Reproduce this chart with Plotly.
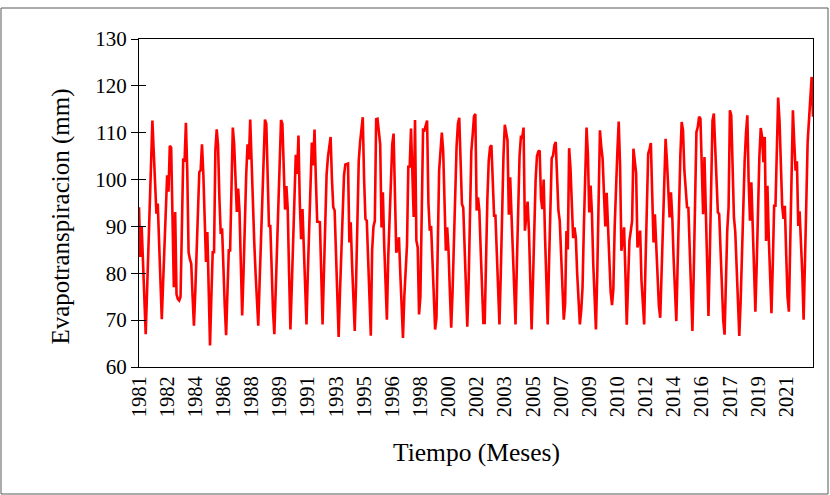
import plotly.graph_objects as go

# Monthly evapotranspiration (mm), Jan..Dec for each year
et_1981 = [94.1, 83.5, 90, 82, 74, 67, 76, 86, 96, 106, 112.6, 106]
et_1982 = [98, 92.7, 94.9, 85, 77, 70.2, 78, 85.6, 93, 100.9, 97.4, 107.2]
et_1983 = [106.8, 90, 77, 93.1, 75.5, 74.5, 74.2, 75, 90, 104.5, 103.8, 112.1]
et_1984 = [102, 84.5, 83, 82, 75, 68.8, 76, 84.2, 93, 101.6, 102, 107.5]
et_1985 = [101.3, 88.8, 82.4, 88.8, 76, 64.6, 75, 84.5, 84.5, 106.3, 110.7, 107.3]
et_1986 = [96, 88.4, 89.6, 80, 73, 66.8, 76, 84.9, 84.9, 98, 111.1, 107.7]
et_1987 = [100, 93.1, 98.1, 93.3, 82, 71, 80, 92, 101, 107.5, 104.3, 112.8]
et_1988 = [103, 94, 86.7, 80, 74, 68.8, 78, 87, 96, 105, 112.8, 111.9]
et_1989 = [100, 90.1, 90.1, 80, 72, 67, 76, 85.5, 95, 104, 112.7, 111.9]
et_1990 = [100, 93.6, 98.6, 93.7, 80, 68, 77, 87, 97, 105.3, 101.2, 109.4]
et_1991 = [95, 87.3, 93.7, 85, 77, 69.1, 80, 91, 101, 107.9, 103, 110.7]
et_1992 = [100, 91, 91, 90.9, 80, 69.1, 80, 92, 101, 104.8, 107, 109.1]
et_1993 = [100, 94.1, 93.4, 84, 75, 66.4, 76, 86, 95, 100.9, 103.2, 103.3]
et_1994 = [103.4, 86.6, 90.9, 82, 74, 67.7, 78, 90, 104, 108, 111, 113.3]
et_1995 = [100, 91.6, 91.2, 82, 74, 66.7, 85, 90, 91.2, 112.9, 113, 110]
et_1996 = [107.5, 89.8, 97.3, 86, 78, 70.1, 83.4, 92, 100, 107.5, 109.8, 99.8]
et_1997 = [84.4, 85.5, 87.7, 80, 72, 66.2, 75, 82, 86, 103, 102.6, 110.9]
et_1998 = [98, 92, 112.7, 87, 85.5, 71.2, 75, 95, 110.6, 110.5, 111.5, 112.6]
et_1999 = [95, 89.1, 90.1, 82, 74, 68, 70.5, 88, 102, 106, 110, 106.2]
et_2000 = [95, 84.8, 89.8, 84.8, 76, 68.4, 76, 86, 98, 107, 111.9, 113.2]
et_2001 = [104, 94.8, 94, 85, 76, 68.6, 78, 92, 106, 109.5, 113.5, 114]
et_2002 = [93.4, 96.2, 93.4, 85, 76, 69.4, 69.4, 84, 96, 104, 106.9, 107.3]
et_2003 = [100, 92.3, 92.3, 84, 76, 69.1, 80, 94, 105, 111.7, 110, 108.4]
et_2004 = [92.5, 100.5, 92.5, 84, 75, 69.1, 82, 95, 105, 109.1, 109, 111.1]
et_2005 = [89.1, 92, 95.3, 89.1, 78, 68, 78, 90, 100, 105, 106, 106.2]
et_2006 = [96, 93.7, 100, 88, 77, 69.1, 82, 95, 104.6, 105.1, 107.3, 108]
et_2007 = [100, 93.4, 91.2, 84, 76, 70.1, 73.4, 89, 85.1, 106.7, 102.5, 95]
et_2008 = [87.5, 89.8, 87.6, 80, 73, 69.1, 72, 76.9, 90, 102, 111.1, 105.5]
et_2009 = [93, 98.7, 93, 82, 73, 68, 80, 95, 110.5, 107, 104.4, 97]
et_2010 = [90, 97.2, 90, 82, 76, 73.2, 76.6, 90, 100, 106, 112.4, 103.2]
et_2011 = [84.8, 87, 89.8, 80, 69, 78, 87, 89, 91.2, 106.6, 104, 101.4]
et_2012 = [85.5, 87, 89.1, 78.4, 72, 69.1, 82, 95, 105.5, 106.5, 107.8, 97]
et_2013 = [86.6, 92.6, 85, 78, 73, 70.5, 80, 88, 100, 108.7, 104, 97]
et_2014 = [91.9, 97.3, 91.9, 83, 75, 69.8, 82, 95, 105, 112.3, 110.5, 102]
et_2015 = [98, 94.1, 94, 84, 75, 67.7, 80, 95, 110.1, 111.2, 113.4, 113]
et_2016 = [104.8, 92.6, 104.8, 92.6, 80, 70.9, 84, 99, 112.6, 114.1, 108, 101.9]
et_2017 = [93, 92.6, 85, 77, 70, 66.9, 80, 89.1, 94.1, 114.8, 113.7, 100]
et_2018 = [92, 88.8, 80, 73, 66.6, 74, 86, 97.3, 104, 110, 113.7, 99.4]
et_2019 = [91.2, 99.4, 90, 80, 71.8, 82, 95, 105, 111, 109.1, 103.7, 109.1]
et_2020 = [86.9, 98.7, 87.6, 80, 71.5, 82, 94.4, 94.4, 105, 117.5, 112.6, 103]
et_2021 = [94.4, 91.6, 94.4, 84, 75, 71.8, 86, 100, 114.8, 108, 101.9, 103.9]
et_2022 = [90.1, 93.2, 88, 80, 70.1, 80, 95, 108, 113.4, 118, 121.9, 113.4]

yearly = [et_1981, et_1982, et_1983, et_1984, et_1985, et_1986, et_1987, et_1988,
          et_1989, et_1990, et_1991, et_1992, et_1993, et_1994, et_1995, et_1996,
          et_1997, et_1998, et_1999, et_2000, et_2001, et_2002, et_2003, et_2004,
          et_2005, et_2006, et_2007, et_2008, et_2009, et_2010, et_2011, et_2012,
          et_2013, et_2014, et_2015, et_2016, et_2017, et_2018, et_2019, et_2020,
          et_2021, et_2022]

et_values = [v for year in yearly for v in year]
month_index = list(range(len(et_values)))

tick_labels = ["1981", "1982", "1984", "1986", "1988", "1989", "1991", "1993",
               "1995", "1996", "1998", "2000", "2002", "2003", "2005", "2007",
               "2009", "2010", "2012", "2014", "2016", "2017", "2019", "2021"]
tick_step = 21
tick_positions = [i * tick_step for i in range(len(tick_labels))]

y_ticks = [60, 70, 80, 90, 100, 110, 120, 130]

FONT = "Liberation Serif"

fig = go.Figure()
fig.add_trace(go.Scatter(
    x=month_index, y=et_values, mode="lines",
    line=dict(color="#FF0000", width=2.6),
    showlegend=False, hoverinfo="skip"))
# dummy trace for the overlaid axis carrying inner tick marks
fig.add_trace(go.Scatter(
    x=[0], y=[60], yaxis="y2", mode="markers",
    marker=dict(opacity=0), showlegend=False, hoverinfo="skip"))

fig.update_layout(
    width=830, height=495,
    margin=dict(l=139, r=17, t=39, b=128),
    paper_bgcolor="white", plot_bgcolor="white",
    font=dict(family=FONT, color="black"),
    xaxis=dict(
        range=[0, len(et_values) - 1],
        showline=True, linecolor="black", linewidth=1, mirror=True,
        showgrid=False, zeroline=False, ticks="",
        tickmode="array", tickvals=tick_positions, ticktext=tick_labels,
        tickangle=-90, tickfont=dict(family=FONT, size=20.5, color="black")),
    yaxis=dict(
        range=[60, 130], tickmode="array", tickvals=y_ticks,
        showline=True, linecolor="black", linewidth=1, mirror=True,
        showgrid=False, zeroline=False,
        ticks="outside", ticklen=7, tickcolor="black", tickwidth=1,
        tickfont=dict(family=FONT, size=21, color="black")),
    yaxis2=dict(
        range=[60, 130], overlaying="y", side="left", anchor="x",
        tickmode="array", tickvals=y_ticks, showticklabels=False,
        ticks="inside", ticklen=7, tickcolor="black", tickwidth=1,
        showline=False, showgrid=False, zeroline=False),
    annotations=[
        dict(text="Tiempo (Meses)", xref="paper", yref="paper",
             x=0.5, y=-0.262, xanchor="center", yanchor="middle",
             showarrow=False, font=dict(family=FONT, size=25.5, color="black")),
        dict(text="Evapotranspiracion (mm)", xref="paper", yref="paper",
             x=-0.115, y=0.46, xanchor="center", yanchor="middle",
             textangle=-90, showarrow=False,
             font=dict(family=FONT, size=25, color="black")),
    ],
    shapes=[
        dict(type="rect", xref="paper", yref="paper",
             x0=(1 - 139) / 674, x1=(828 - 139) / 674,
             y0=(367 - 494) / 328, y1=(367 - 8) / 328,
             line=dict(color="#595959", width=1), fillcolor="rgba(0,0,0,0)",
             layer="below"),
    ],
)

fig.write_html(
    "out.html",
    config={"displayModeBar": False, "staticPlot": True},
    post_script="document.body.style.margin='0px';document.body.style.padding='0px';",
)
